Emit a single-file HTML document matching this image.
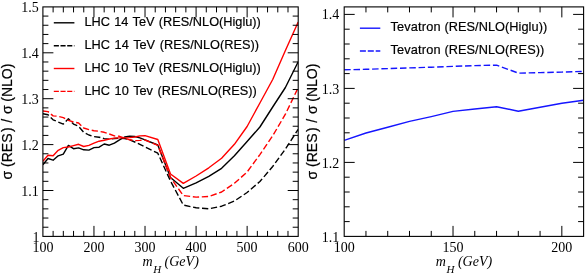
<!DOCTYPE html>
<html><head><meta charset="utf-8"><title>plot</title>
<style>html,body{margin:0;padding:0;background:#fff;}svg{display:block}.s{font-family:"Liberation Serif",serif;font-size:14px;fill:#000}.h{font-family:"Liberation Sans",sans-serif;fill:#000;stroke:#000;stroke-width:0.2px}</style></head><body>
<svg width="585" height="274" viewBox="0 0 585 274">
<rect width="585" height="274" fill="#fff"/>
<defs><filter id="nf" x="0" y="0" width="585" height="274" filterUnits="userSpaceOnUse"><feOffset dx="0" dy="0"/></filter><clipPath id="cl"><rect x="42.9" y="6.9" width="255.29999999999998" height="229.5"/></clipPath><clipPath id="cr"><rect x="344.2" y="6.9" width="239.40000000000003" height="229.5"/></clipPath></defs>
<g fill="none" stroke-width="1.4" stroke-linejoin="round" clip-path="url(#cl)">
<path d="M42.9,164.8 L48.0,158.5 L53.1,160.2 L58.2,155.8 L63.3,154.1 L68.4,145.4 L73.5,148.7 L78.6,147.9 L83.7,149.8 L88.9,150.1 L94.0,147.6 L99.1,147.2 L104.2,144.0 L109.3,145.2 L114.4,143.1 L119.5,139.8 L124.6,137.0 L129.7,136.3 L134.8,136.5 L139.9,137.9 L145.0,139.8 L157.8,145.0 L170.5,177.5 L183.3,188.3 L196.1,182.8 L208.8,176.3 L221.6,168.3 L234.4,155.8 L247.1,141.5 L259.9,127.0 L272.7,107.0 L285.4,87.5 L298.2,61.8" stroke="#000"/>
<path d="M42.9,113.8 L48.0,114.8 L53.1,119.8 L58.2,122.0 L63.3,124.1 L68.4,118.7 L73.5,124.1 L78.6,126.3 L83.7,132.3 L88.9,135.0 L94.0,136.6 L99.1,137.2 L104.2,138.6 L109.3,139.2 L114.4,138.5 L119.5,138.2 L124.6,138.5 L129.7,139.8 L134.8,142.0 L139.9,144.4 L145.0,147.0 L157.8,153.2 L170.5,181.0 L183.3,205.0 L196.1,207.8 L208.8,208.8 L221.6,206.2 L234.4,201.0 L247.1,192.5 L259.9,181.5 L272.7,166.5 L285.4,149.0 L298.2,129.3" stroke="#000" stroke-dasharray="6.3 2.7"/>
<path d="M42.9,161.2 L48.0,155.2 L53.1,155.8 L58.2,150.3 L63.3,147.6 L68.4,147.0 L73.5,145.6 L78.6,144.3 L83.7,146.5 L88.9,145.4 L94.0,143.2 L99.1,141.2 L104.2,140.3 L109.3,139.0 L114.4,138.1 L119.5,137.9 L124.6,137.9 L129.7,137.6 L134.8,137.0 L139.9,135.9 L145.0,135.6 L157.8,139.5 L170.5,174.0 L183.3,183.4 L196.1,176.0 L208.8,167.8 L221.6,158.3 L234.4,144.3 L247.1,126.5 L259.9,103.0 L272.7,79.5 L285.4,50.5 L298.2,22.0" stroke="#f00"/>
<path d="M42.9,111.0 L48.0,111.6 L53.1,115.9 L58.2,116.3 L63.3,117.6 L68.4,120.3 L73.5,122.0 L78.6,123.0 L83.7,128.0 L88.9,129.6 L94.0,130.7 L99.1,131.3 L104.2,132.3 L109.3,134.0 L114.4,135.9 L119.5,136.3 L124.6,138.1 L129.7,139.8 L134.8,140.6 L139.9,140.4 L145.0,140.0 L157.8,145.3 L170.5,177.6 L183.3,195.6 L196.1,197.1 L208.8,196.5 L221.6,192.0 L234.4,183.3 L247.1,172.0 L259.9,154.6 L272.7,135.8 L285.4,114.2 L298.2,87.6" stroke="#f00" stroke-dasharray="6.3 2.7"/>
</g>
<g fill="none" stroke-width="1.4" stroke-linejoin="round" clip-path="url(#cr)">
<path d="M344.2,140.3 L366.0,133.0 L387.7,127.2 L409.5,121.4 L431.3,116.6 L453.0,111.4 L474.8,109.0 L496.6,106.7 L518.3,111.2 L540.1,107.2 L561.9,103.3 L583.6,100.2" stroke="#1515ff"/>
<path d="M344.2,69.8 L366.0,69.3 L387.7,68.6 L409.5,67.9 L431.3,67.2 L453.0,66.4 L474.8,65.6 L496.6,65.1 L518.3,73.1 L540.1,72.6 L561.9,72.1 L583.6,71.4" stroke="#1515ff" stroke-dasharray="6.5 2.8"/>
</g>
<path d="M53.11,236.4v-5.5M53.11,6.9v5.5M63.32,236.4v-5.5M63.32,6.9v5.5M73.54,236.4v-5.5M73.54,6.9v5.5M83.75,236.4v-5.5M83.75,6.9v5.5M93.96,236.4v-10.5M93.96,6.9v10.5M104.17,236.4v-5.5M104.17,6.9v5.5M114.38,236.4v-5.5M114.38,6.9v5.5M124.60,236.4v-5.5M124.60,6.9v5.5M134.81,236.4v-5.5M134.81,6.9v5.5M145.02,236.4v-10.5M145.02,6.9v10.5M155.23,236.4v-5.5M155.23,6.9v5.5M165.44,236.4v-5.5M165.44,6.9v5.5M175.66,236.4v-5.5M175.66,6.9v5.5M185.87,236.4v-5.5M185.87,6.9v5.5M196.08,236.4v-10.5M196.08,6.9v10.5M206.29,236.4v-5.5M206.29,6.9v5.5M216.50,236.4v-5.5M216.50,6.9v5.5M226.72,236.4v-5.5M226.72,6.9v5.5M236.93,236.4v-5.5M236.93,6.9v5.5M247.14,236.4v-10.5M247.14,6.9v10.5M257.35,236.4v-5.5M257.35,6.9v5.5M267.56,236.4v-5.5M267.56,6.9v5.5M277.78,236.4v-5.5M277.78,6.9v5.5M287.99,236.4v-5.5M287.99,6.9v5.5M42.9,16.08h5.5M298.2,16.08h-5.5M42.9,25.26h5.5M298.2,25.26h-5.5M42.9,34.44h5.5M298.2,34.44h-5.5M42.9,43.62h5.5M298.2,43.62h-5.5M42.9,52.80h10.5M298.2,52.80h-10.5M42.9,61.98h5.5M298.2,61.98h-5.5M42.9,71.16h5.5M298.2,71.16h-5.5M42.9,80.34h5.5M298.2,80.34h-5.5M42.9,89.52h5.5M298.2,89.52h-5.5M42.9,98.70h10.5M298.2,98.70h-10.5M42.9,107.88h5.5M298.2,107.88h-5.5M42.9,117.06h5.5M298.2,117.06h-5.5M42.9,126.24h5.5M298.2,126.24h-5.5M42.9,135.42h5.5M298.2,135.42h-5.5M42.9,144.60h10.5M298.2,144.60h-10.5M42.9,153.78h5.5M298.2,153.78h-5.5M42.9,162.96h5.5M298.2,162.96h-5.5M42.9,172.14h5.5M298.2,172.14h-5.5M42.9,181.32h5.5M298.2,181.32h-5.5M42.9,190.50h10.5M298.2,190.50h-10.5M42.9,199.68h5.5M298.2,199.68h-5.5M42.9,208.86h5.5M298.2,208.86h-5.5M42.9,218.04h5.5M298.2,218.04h-5.5M42.9,227.22h5.5M298.2,227.22h-5.5M365.96,236.4v-5.5M365.96,6.9v5.5M387.73,236.4v-5.5M387.73,6.9v5.5M409.49,236.4v-5.5M409.49,6.9v5.5M431.25,236.4v-5.5M431.25,6.9v5.5M453.02,236.4v-10.5M453.02,6.9v10.5M474.78,236.4v-5.5M474.78,6.9v5.5M496.55,236.4v-5.5M496.55,6.9v5.5M518.31,236.4v-5.5M518.31,6.9v5.5M540.07,236.4v-5.5M540.07,6.9v5.5M561.84,236.4v-10.5M561.84,6.9v10.5M344.2,14.40h10.5M583.6,14.40h-10.5M344.2,29.20h5.5M583.6,29.20h-5.5M344.2,44.00h5.5M583.6,44.00h-5.5M344.2,58.80h5.5M583.6,58.80h-5.5M344.2,73.60h5.5M583.6,73.60h-5.5M344.2,88.40h10.5M583.6,88.40h-10.5M344.2,103.20h5.5M583.6,103.20h-5.5M344.2,118.00h5.5M583.6,118.00h-5.5M344.2,132.80h5.5M583.6,132.80h-5.5M344.2,147.60h5.5M583.6,147.60h-5.5M344.2,162.40h10.5M583.6,162.40h-10.5M344.2,177.20h5.5M583.6,177.20h-5.5M344.2,192.00h5.5M583.6,192.00h-5.5M344.2,206.80h5.5M583.6,206.80h-5.5M344.2,221.60h5.5M583.6,221.60h-5.5" stroke="#000" stroke-width="1.0" fill="none"/>
<rect x="42.9" y="6.9" width="255.29999999999998" height="229.5" fill="none" stroke="#000" stroke-width="1.1"/>
<rect x="344.2" y="6.9" width="239.40000000000003" height="229.5" fill="none" stroke="#000" stroke-width="1.1"/>
<g filter="url(#nf)">
<text class="s" x="38.7" y="11.7" text-anchor="end">1.5</text>
<text class="s" x="38.7" y="57.8" text-anchor="end">1.4</text>
<text class="s" x="38.7" y="103.9" text-anchor="end">1.3</text>
<text class="s" x="38.7" y="150.0" text-anchor="end">1.2</text>
<text class="s" x="38.7" y="196.1" text-anchor="end">1.1</text>
<text class="s" x="39.6" y="242.2" text-anchor="end">1</text>
<text class="s" x="42.9" y="252" text-anchor="middle">100</text>
<text class="s" x="94.0" y="252" text-anchor="middle">200</text>
<text class="s" x="145.0" y="252" text-anchor="middle">300</text>
<text class="s" x="196.1" y="252" text-anchor="middle">400</text>
<text class="s" x="247.1" y="252" text-anchor="middle">500</text>
<text class="s" x="298.2" y="252" text-anchor="middle">600</text>
<text class="s" x="339.3" y="19.3" text-anchor="end">1.4</text>
<text class="s" x="339.3" y="93.6" text-anchor="end">1.3</text>
<text class="s" x="339.3" y="167.9" text-anchor="end">1.2</text>
<text class="s" x="339.3" y="242.2" text-anchor="end">1.1</text>
<text class="s" x="344.2" y="252" text-anchor="middle">100</text>
<text class="s" x="453.0" y="252" text-anchor="middle">150</text>
<text class="s" x="561.8" y="252" text-anchor="middle">200</text>
<text x="142.50" y="266" style="font-family:'Liberation Serif',serif;font-style:italic;font-size:14px">m</text>
<text x="153.25" y="272.8" style="font-family:'Liberation Serif',serif;font-style:italic;font-size:11px">H</text>
<text x="164.60" y="266" style="font-family:'Liberation Serif',serif;font-style:italic;font-size:14px">(GeV)</text>
<text x="435.85" y="266" style="font-family:'Liberation Serif',serif;font-style:italic;font-size:14px">m</text>
<text x="446.60" y="272.8" style="font-family:'Liberation Serif',serif;font-style:italic;font-size:11px">H</text>
<text x="457.95" y="266" style="font-family:'Liberation Serif',serif;font-style:italic;font-size:14px">(GeV)</text>
<text class="h" font-size="14px" word-spacing="0.7" x="-57.8" transform="translate(12,121.7) rotate(-90)">σ<tspan dx="-0.7"> (RES</tspan><tspan dx="1.6">)</tspan> /<tspan dx="0.15"> σ</tspan><tspan dx="-0.95"> (NLO)</tspan></text>
<text class="h" font-size="14px" word-spacing="0.7" x="-57.8" transform="translate(317,121.7) rotate(-90)">σ<tspan dx="-0.7"> (RES</tspan><tspan dx="1.6">)</tspan> /<tspan dx="0.15"> σ</tspan><tspan dx="-0.95"> (NLO)</tspan></text>
<path d="M53.8,22.8H74.4" stroke="#000" stroke-width="1.4"/>
<text class="h" font-size="12.75px" word-spacing="0.8" x="84.4" y="26.2">LHC 14 TeV (RES/NLO(Higlu))</text>
<path d="M53.8,45.7H74.4" stroke="#000" stroke-width="1.4" stroke-dasharray="5.1 1.6"/>
<text class="h" font-size="12.75px" word-spacing="1.1" x="84.4" y="49.1">LHC 14 TeV (RES/NLO(RES))</text>
<path d="M53.8,68.5H74.4" stroke="#f00" stroke-width="1.4"/>
<text class="h" font-size="12.75px" word-spacing="0.8" x="84.4" y="71.9">LHC 10 TeV (RES/NLO(Higlu))</text>
<path d="M53.8,91.4H74.4" stroke="#f00" stroke-width="1.4" stroke-dasharray="5.1 1.6"/>
<text class="h" font-size="12.75px" word-spacing="1.1" x="84.4" y="94.8">LHC 10 Tev (RES/NLO(RES))</text>
<path d="M359.9,28.2H380.3" stroke="#1515ff" stroke-width="1.4"/>
<text class="h" font-size="12.75px" word-spacing="1.1" letter-spacing="0.05" x="390.4" y="31.4"><tspan letter-spacing="0.19">Tevatron</tspan><tspan dx="-1.1"> (</tspan>RES/NLO(Higlu))</text>
<path d="M359.9,51.0H380.3" stroke="#1515ff" stroke-width="1.4" stroke-dasharray="6 1.9"/>
<text class="h" font-size="12.75px" word-spacing="1.1" letter-spacing="0.05" x="390.4" y="54.2"><tspan letter-spacing="0.19">Tevatron</tspan><tspan dx="-1.1"> (</tspan>RES/NLO(RES))</text>
</g>
</svg></body></html>
